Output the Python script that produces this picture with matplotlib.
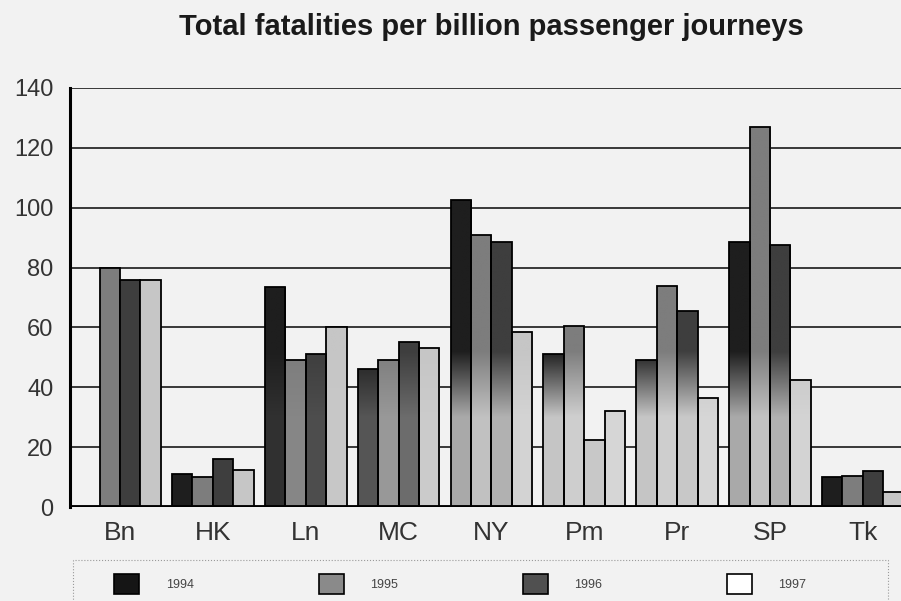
import numpy as np
import matplotlib
matplotlib.use("Agg")
import matplotlib.pyplot as plt
from matplotlib.patches import Patch, Rectangle
from matplotlib.colors import to_rgb

# ---- data -------------------------------------------------------------
cities = ["Bn", "HK", "Ln", "MC", "NY", "Pm", "Pr", "SP", "Tk"]
years = ["1994", "1995", "1996", "1997"]

fat_1994 = [0, 11, 73.5, 46, 102.5, 51, 49, 88.5, 10]
fat_1995 = [80, 10, 49, 49, 91, 60.5, 74, 127, 10.5]
fat_1996 = [76, 16, 51, 55, 88.5, 22.5, 65.5, 87.5, 12]
fat_1997 = [76, 12.5, 60, 53, 58.5, 32, 36.5, 42.5, 5]
series = [fat_1994, fat_1995, fat_1996, fat_1997]

y_ticks = [0, 20, 40, 60, 80, 100, 120, 140]

# ---- styling ------------------------------------------------------------
plt.rcParams["font.family"] = ["Liberation Sans", "DejaVu Sans"]
paper = "#f2f2f2"
base_colors = ["#1e1e1e", "#7d7d7d", "#3e3e3e", "#c6c6c6"]
light = np.array(to_rgb("#d8d8d8"))
# toner fade towards the bottom of the bars, per city group
fade = [0.0, 0.0, 0.1, 0.3, 0.75, 0.9, 0.9, 0.75, 0.0]

fig = plt.figure(figsize=(9.01, 6.01), dpi=100, facecolor=paper)
ax = fig.add_axes([0.0777, 0.1564, 0.9253, 0.6972])
ax.set_facecolor("none")

x = np.arange(len(cities))
width = 0.22
offsets = (np.arange(len(years)) - 1.5) * width

for si, vals in enumerate(series):
    bars = ax.bar(x + offsets[si], vals, width, color=base_colors[si],
                  edgecolor="black", linewidth=1.3, zorder=3)
    base = np.array(to_rgb(base_colors[si]))
    for gi, rect in enumerate(bars):
        f = fade[gi]
        h = rect.get_height()
        if f <= 0 or h <= 0:
            continue
        yy = np.linspace(0, h, 200)
        t = f * np.clip((52 - yy) / 22.0, 0, 1)
        col = base[None, :] + (light - base)[None, :] * t[:, None]
        img = col[:, None, :]
        x0 = rect.get_x()
        im = ax.imshow(img, extent=(x0, x0 + rect.get_width(), 0, h),
                       origin="lower", aspect="auto", zorder=3.2,
                       interpolation="bilinear")
        im.set_clip_path(rect)
        rect.set_facecolor("none")
        rect.set_zorder(3.4)

ax.set_xlim(-0.538, 8.44)
ax.set_ylim(0, 140)

# horizontal rules
for v in y_ticks[1:]:
    ax.axhline(v, color="#2a2a2a", linewidth=1.3, zorder=1)
ax.axhline(0, color="black", linewidth=3.5, zorder=5)

for side in ["top", "right", "bottom"]:
    ax.spines[side].set_visible(False)
ax.spines["left"].set_linewidth(2.2)
ax.spines["left"].set_color("black")
ax.spines["left"].set_zorder(6)

ax.set_yticks(y_ticks)
ax.set_yticklabels([str(v) for v in y_ticks], fontsize=17, color="#333333")
ax.set_xticks(x)
ax.set_xticklabels(cities, fontsize=19, color="#333333")
ax.tick_params(axis="y", length=0, pad=12)
ax.tick_params(axis="x", length=0, pad=10)

fig.text(0.545, 1 - 35 / 601, "Total fatalities per billion passenger journeys",
         ha="center", va="baseline", fontsize=21, fontweight="bold",
         color="#1a1a1a")

# legend strip along the bottom
handles = [Patch(facecolor=c, edgecolor="black", linewidth=1.2)
           for c in ["#151515", "#8a8a8a", "#505050", "#ffffff"]]
fig.legend(handles, years, loc="center left", bbox_to_anchor=(0.12, 0.028),
           ncol=4, frameon=False, fontsize=9, borderpad=0,
           handlelength=2.0, handleheight=2.1, handletextpad=2.1,
           columnspacing=10.0, labelcolor="#444444")
fig.patches.append(Rectangle((73 / 901, -0.05), 815 / 901, 0.118,
                             transform=fig.transFigure, fill=False,
                             edgecolor="#9a9a9a", linewidth=0.8,
                             linestyle=":"))

fig.savefig("out.png", dpi=100, facecolor=paper)
